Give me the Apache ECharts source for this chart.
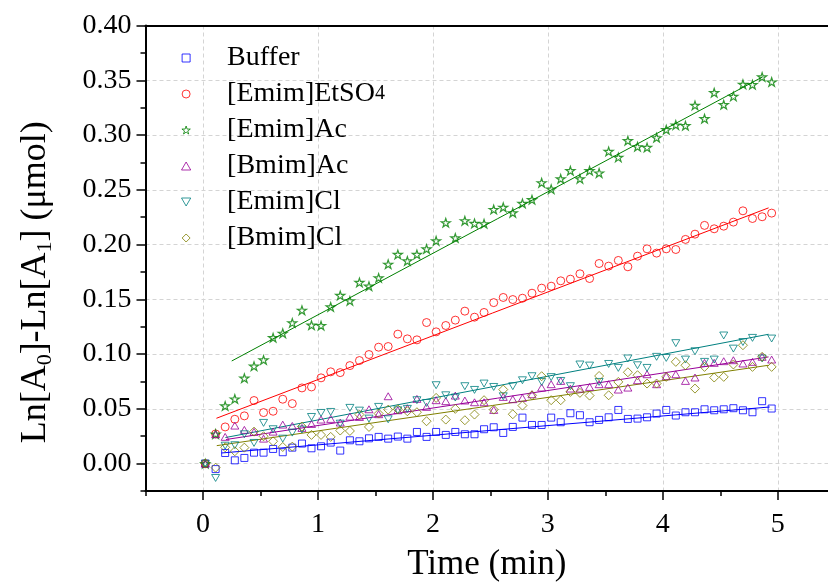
<!DOCTYPE html>
<html>
<head>
<meta charset="utf-8">
<script src="https://cdn.jsdelivr.net/npm/echarts/dist/echarts.min.js"></script>
<style>
html,body{margin:0;padding:0;background:#fff;}
#chart{width:828px;height:585px;}
</style>
</head>
<body>
<div id="chart"></div>
<script>
// ---------- data ----------
const seriesNames = ['Buffer', '[Emim]EtSO4', '[Emim]Ac', '[Bmim]Ac', '[Emim]Cl', '[Bmim]Cl'];
const seriesColors = ['#0000ff', '#ff0000', '#008000', '#990099', '#008080', '#808000'];

const times = [0.02,0.110,0.193,0.277,0.360,0.444,0.527,0.610,0.694,0.777,0.861,0.944,1.027,1.111,1.194,1.278,1.361,1.444,1.528,1.611,1.695,1.778,1.861,1.945,2.028,2.112,2.195,2.278,2.362,2.445,2.529,2.612,2.695,2.779,2.862,2.946,3.029,3.112,3.196,3.279,3.363,3.446,3.529,3.613,3.696,3.780,3.863,3.946,4.030,4.113,4.197,4.280,4.363,4.447,4.530,4.614,4.697,4.780,4.864,4.947];

const buffer = [0,-0.005,0.0097,0.003,0.0052,0.010,0.010,0.0134,0.0104,0.0146,0.0183,0.014,0.0158,0.0192,0.0119,0.0213,0.0204,0.0231,0.0244,0.0228,0.0247,0.0228,0.0289,0.0244,0.0289,0.0262,0.0289,0.0268,0.0268,0.0314,0.0332,0.028,0.0335,0.042,0.0353,0.0353,0.042,0.0378,0.046,0.0442,0.0378,0.0399,0.0423,0.049,0.0408,0.0411,0.0423,0.0457,0.049,0.0439,0.0469,0.0469,0.0496,0.0487,0.0496,0.0506,0.0487,0.0469,0.057,0.0503];
const emimEtSO4 = [0,0.0271,0.0335,0.0405,0.0436,0.0576,0.0466,0.0478,0.0588,0.0548,0.0691,0.070,0.0783,0.0838,0.0831,0.0895,0.0941,0.0996,0.1063,0.1069,0.1182,0.1139,0.113,0.1288,0.1203,0.1261,0.131,0.1392,0.1337,0.138,0.147,0.1517,0.1498,0.151,0.1556,0.1602,0.162,0.1669,0.1684,0.1733,0.169,0.1827,0.1803,0.1855,0.1797,0.1894,0.1961,0.1922,0.1961,0.1955,0.2047,0.2095,0.2175,0.2144,0.2168,0.2205,0.2308,0.2238,0.2254,0.2287];
const emimAc = [0,0.027,0.0527,0.059,0.078,0.089,0.0947,0.115,0.119,0.1285,0.140,0.1264,0.126,0.143,0.1535,0.1486,0.1654,0.162,0.1696,0.182,0.191,0.185,0.191,0.196,0.2034,0.2199,0.206,0.2217,0.2193,0.219,0.232,0.234,0.229,0.2375,0.241,0.2564,0.2506,0.260,0.2674,0.260,0.2674,0.2653,0.285,0.2796,0.2948,0.2893,0.2887,0.2975,0.3049,0.3091,0.3085,0.3271,0.3149,0.3387,0.3277,0.3353,0.3463,0.346,0.353,0.3484];
const bmimAc = [0,0.0268,0.0244,0.0347,0.0308,0.029,0.0228,0.0292,0.0356,0.0344,0.0326,0.0362,0.0402,0.0408,0.0375,0.0429,0.0426,0.0496,0.0451,0.0615,0.0487,0.0506,0.0591,0.0518,0.0579,0.057,0.0621,0.0576,0.056,0.056,0.049,0.0609,0.0588,0.060,0.0633,0.0694,0.0725,0.0755,0.0685,0.0685,0.070,0.0725,0.0725,0.0676,0.0694,0.0761,0.0816,0.0725,0.0798,0.0816,0.0755,0.0786,0.092,0.092,0.0935,0.0944,0.0914,0.0929,0.0975,0.095];
const emimCl = [0,-0.0131,0.0164,0.0168,0.0268,0.0189,0.0372,0.0314,0.0228,0.0283,0.0311,0.0426,0.0463,0.0472,0.0365,0.0509,0.0484,0.0411,0.0518,0.0405,0.0487,0.05,0.0579,0.0554,0.0716,0.0624,0.0603,0.0707,0.0673,0.0731,0.070,0.0615,0.0707,0.0761,0.0798,0.0746,0.079,0.0755,0.0707,0.0905,0.0895,0.0746,0.091,0.0874,0.096,0.0898,0.0874,0.0975,0.0965,0.110,0.095,0.1026,0.0929,0.095,0.117,0.105,0.111,0.1148,0.096,0.1142];
const bmimCl = [0,-0.0037,0.0149,0.0113,0.0146,0.0292,0.025,0.0204,0.0152,0.0155,0.0338,0.0262,0.0262,0.0244,0.0302,0.0298,0.0448,0.0335,0.0457,0.0493,0.0496,0.0478,0.0469,0.0387,0.060,0.0402,0.050,0.0396,0.0448,0.0579,0.0493,0.0676,0.0451,0.053,0.0624,0.0798,0.0579,0.0579,0.0655,0.0646,0.0621,0.080,0.0624,0.0746,0.0834,0.0807,0.0731,0.0731,0.0792,0.0929,0.0898,0.0685,0.0883,0.0786,0.0792,0.0905,0.1081,0.0883,0.0975,0.0883];

// linear fit lines: start and end points [time, value]
const fitBuffer    = [[0.16, 0.0097], [4.93, 0.0517]];
const fitEmimEtSO4 = [[0.117, 0.0414], [4.92, 0.2335]];
const fitEmimAc    = [[0.25, 0.0937], [4.87, 0.3532]];
const fitBmimAc    = [[0.20, 0.0220], [4.92, 0.0974]];
const fitEmimCl    = [[0.195, 0.0238], [4.92, 0.1181]];
const fitBmimCl    = [[0.12, 0.0164], [4.92, 0.0898]];

const xTicks = [0, 1, 2, 3, 4, 5];
const xMinorTicks = [-0.5, 0.5, 1.5, 2.5, 3.5, 4.5];
const yTicks = [0, 0.05, 0.10, 0.15, 0.20, 0.25, 0.30, 0.35, 0.40];
const yMinorTicks = [-0.025, 0.025, 0.075, 0.125, 0.175, 0.225, 0.275, 0.325, 0.375];

// ---------- chart ----------
const FONT = '"Liberation Serif", "Times New Roman", serif';
const values = [buffer, emimEtSO4, emimAc, bmimAc, emimCl, bmimCl];
const fits = [fitBuffer, fitEmimEtSO4, fitEmimAc, fitBmimAc, fitEmimCl, fitBmimCl];
const symbols = [
  'path://M0,0 L100,0 L100,100 L0,100 Z',
  'circle',
  'path://M50,0 L61.2,34.5 L97.6,34.5 L68.2,55.9 L79.4,90.5 L50,69.1 L20.6,90.5 L31.8,55.9 L2.4,34.5 L38.8,34.5 Z',
  'path://M50,0 L100,86.6 L0,86.6 Z',
  'path://M0,0 L100,0 L50,86.6 Z',
  'path://M50,0 L100,50 L50,100 L0,50 Z'
];
const symbolSizes = [7, 8, 9, 8, 8, 9];
const borderWidths = [1, 1, 1.2, 1, 1, 1];

const XMIN = -0.5, XMAX = 5.437, YMIN = -0.025, YMAX = 0.40;

const scatterSeries = seriesNames.map((name, i) => ({
  name: name,
  type: 'scatter',
  xAxisIndex: 0, yAxisIndex: 0,
  symbol: symbols[i],
  symbolSize: symbolSizes[i],
  symbolKeepAspect: true,
  itemStyle: { color: 'rgba(0,0,0,0)', borderColor: seriesColors[i], borderWidth: borderWidths[i] },
  emphasis: { disabled: true },
  z: 3,
  data: times.map((t, k) => [t, values[i][k]])
}));

const fitSeries = seriesNames.map((name, i) => ({
  name: name + ' fit',
  type: 'line',
  xAxisIndex: 0, yAxisIndex: 0,
  showSymbol: false,
  symbol: 'none',
  silent: true,
  lineStyle: { color: seriesColors[i], width: 1 },
  z: 2,
  data: fits[i]
}));

const chart = echarts.init(document.getElementById('chart'), null, { renderer: 'canvas' });

const axisLineStyle = { color: '#000', width: 2 };
const gridLineStyle = { color: '#d4d4d4', width: 1, type: [4, 3] };

chart.setOption({
  animation: false,
  backgroundColor: '#fff',
  grid: { left: 145.5, top: 25.5, right: 0, bottom: 94, containLabel: false, outerBoundsMode: 'none' },
  legend: {
    data: seriesNames,
    orient: 'vertical',
    left: 181,
    top: 43,
    padding: 0,
    itemWidth: 72,
    itemHeight: 8,
    itemGap: 6,
    selectedMode: false,
    itemStyle: { borderWidth: 1 },
    textStyle: {
      fontFamily: FONT, fontSize: 28, color: '#000', lineHeight: 30,
      rich: { s: { fontFamily: FONT, fontSize: 20, lineHeight: 30, verticalAlign: 'middle', color: '#000' } }
    },
    formatter: function (name) {
      if (name === '[Emim]EtSO4') return '[Emim]EtSO{s|4}';
      return name;
    }
  },
  xAxis: [
    {
      type: 'value', min: XMIN, max: XMAX, splitNumber: 6, position: 'bottom',
      axisLine: { show: true, onZero: false, lineStyle: axisLineStyle },
      axisTick: { show: true, inside: false, length: 9, customValues: xTicks, lineStyle: { color: '#000', width: 1.5 } },
      axisLabel: { customValues: xTicks, fontFamily: FONT, fontSize: 28, color: '#000', margin: 20 },
      splitLine: { show: true, lineStyle: gridLineStyle },
      name: 'Time (min)', nameLocation: 'middle', nameGap: 56,
      nameTextStyle: { fontFamily: FONT, fontSize: 35, color: '#000' }
    },
    {
      type: 'value', min: XMIN, max: XMAX, position: 'bottom',
      axisLine: { show: false, onZero: false },
      axisTick: { show: true, inside: false, length: 5, customValues: xMinorTicks, lineStyle: { color: '#000', width: 1.5 } },
      axisLabel: { show: false },
      splitLine: { show: false }
    },
    {
      type: 'value', min: XMIN, max: XMAX, position: 'top',
      axisLine: { show: true, onZero: false, lineStyle: axisLineStyle },
      axisTick: { show: false },
      axisLabel: { show: false },
      splitLine: { show: false }
    }
  ],
  yAxis: [
    {
      type: 'value', min: YMIN, max: YMAX, splitNumber: 8, position: 'left',
      axisLine: { show: true, onZero: false, lineStyle: axisLineStyle },
      axisTick: { show: true, inside: false, length: 9, customValues: yTicks, lineStyle: { color: '#000', width: 1.5 } },
      axisLabel: {
        customValues: yTicks, fontFamily: FONT, fontSize: 28, color: '#000', margin: 14,
        formatter: v => v.toFixed(2)
      },
      splitLine: { show: true, lineStyle: gridLineStyle },
      name: '{n|Ln[A}{s|0}{n|]-Ln[A}{s|1}{n|] (μmol)}',
      nameLocation: 'middle', nameGap: 89,
      nameTextStyle: {
        fontFamily: FONT, fontSize: 36, color: '#000', padding: [0, 48, 0, 0],
        rich: {
          n: { fontFamily: FONT, fontSize: 36, color: '#000', lineHeight: 42 },
          s: { fontFamily: FONT, fontSize: 22, color: '#000', lineHeight: 26, verticalAlign: 'bottom' }
        }
      }
    },
    {
      type: 'value', min: YMIN, max: YMAX, position: 'left',
      axisLine: { show: false, onZero: false },
      axisTick: { show: true, inside: false, length: 5, customValues: yMinorTicks, lineStyle: { color: '#000', width: 1.5 } },
      axisLabel: { show: false },
      splitLine: { show: false }
    }
  ],
  series: fitSeries.concat(scatterSeries)
});
</script>
</body>
</html>
